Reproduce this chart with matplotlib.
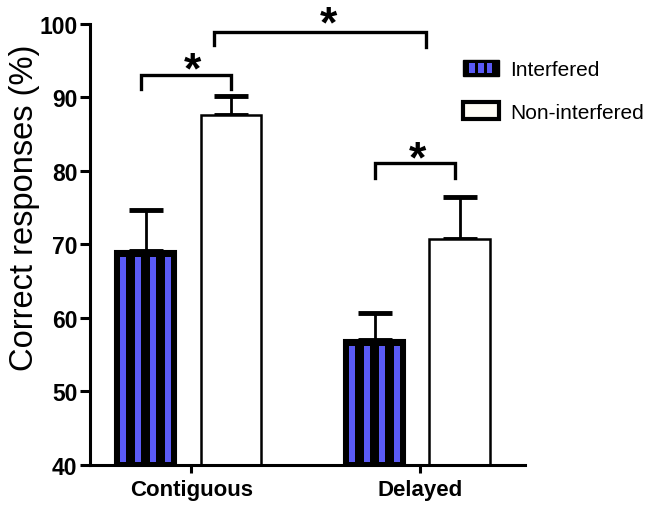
import numpy as np
import matplotlib
matplotlib.use('Agg')
import matplotlib.pyplot as plt
from matplotlib.patches import Rectangle
from matplotlib.legend_handler import HandlerBase

plt.rcParams['font.family'] = ['Liberation Sans', 'DejaVu Sans']

groups = ['Contiguous', 'Delayed']
series = ['Interfered', 'Non-interfered']
interfered = [69.1, 57.0]
interfered_err = [5.6, 3.7]
non_interfered = [87.6, 70.8]
non_interfered_err = [2.6, 5.7]
yticks = [40, 50, 60, 70, 80, 90, 100]

blue = '#5a5af5'
cream = '#fffdf6'


class StripeHandler(HandlerBase):
    def create_artists(self, legend, orig_handle, xdescent, ydescent,
                       width, height, fontsize, trans):
        x0, y0 = -xdescent, -ydescent
        arts = [Rectangle((x0, y0), width, height, facecolor='black',
                          edgecolor='black', transform=trans)]
        sw = width * 0.15
        for k in range(3):
            cx = x0 + width * (0.25 + 0.25 * k)
            arts.append(Rectangle((cx - sw / 2, y0 + height * 0.18), sw, height * 0.64,
                                  facecolor=blue, edgecolor='none', transform=trans))
        return arts


class BoxHandler(HandlerBase):
    def create_artists(self, legend, orig_handle, xdescent, ydescent,
                       width, height, fontsize, trans):
        return [Rectangle((-xdescent, -ydescent), width, height, facecolor=cream,
                          edgecolor='black', linewidth=3, transform=trans)]


fig = plt.figure(figsize=(6.47, 5.10), dpi=100)
ax = fig.add_axes([0.139, 0.0863, 0.672, 0.865])

x = np.arange(len(groups))
off = 0.186
w = 0.265

# interfered bars: black with blue stripes
b1 = ax.bar(x - off, interfered, w, color='black', edgecolor='black', linewidth=1.5, zorder=2)
for s in [-0.098, -0.033, 0.033, 0.098]:
    tops = np.array(interfered) - 0.8
    ax.bar(x - off + s, tops - 40.4, 0.026, bottom=40.4, color=blue, linewidth=0, zorder=3)
ax.errorbar(x - off, interfered, yerr=[np.zeros(2), interfered_err], fmt='none',
            ecolor='black', elinewidth=2, capsize=12.5, capthick=3.5, zorder=1)

b2 = ax.bar(x + off, non_interfered, w, color='white', edgecolor='black', linewidth=1.8, zorder=2)
ax.errorbar(x + off, non_interfered, yerr=[np.zeros(2), non_interfered_err], fmt='none',
            ecolor='black', elinewidth=2, capsize=12.5, capthick=3.5, zorder=1)

# significance brackets
def bracket(x1, x2, y, y_left, y_right, sx, sy):
    ax.plot([x1, x1, x2, x2], [y_left, y, y, y_right], color='black', lw=2.4,
            clip_on=False, solid_joinstyle='miter')
    ax.text(sx, sy, '*', ha='center', va='center', fontsize=32, fontweight='bold',
            clip_on=False)

bracket(-off - 0.02, off, 93.1, 91.2, 91.2, 0.017, 93.6)
bracket(0.11, 1.04, 98.9, 97.1, 96.9, 0.612, 99.9)
bracket(1 - off, 1 + off - 0.02, 81.1, 79.1, 79.0, 1.0, 81.5)

ax.set_xlim(-0.43, 1.47)
ax.set_ylim(40, 100)
ax.set_yticks(yticks)
ax.set_xticks(x + 0.013)
ax.set_xticklabels(groups)
ax.set_ylabel('Correct responses (%)', fontsize=23.5)
ax.yaxis.set_label_coords(-0.115, 0.585)

for sp in ['top', 'right']:
    ax.spines[sp].set_visible(False)
for sp in ['left', 'bottom']:
    ax.spines[sp].set_linewidth(2.2)
ax.tick_params(axis='y', width=2.2, length=7, labelsize=16.5, pad=2)
ax.tick_params(axis='x', width=2.2, length=6, labelsize=16, pad=4)
for lab in ax.get_xticklabels() + ax.get_yticklabels():
    lab.set_fontweight('bold')

fig.legend([b1, b2], series, handler_map={b1: StripeHandler(), b2: BoxHandler()},
           loc='upper left', bbox_to_anchor=(0.716, 0.881), frameon=False,
           fontsize=15, handlelength=1.7, handleheight=0.85,
           handletextpad=0.55, labelspacing=1.1, borderpad=0, borderaxespad=0)

fig.savefig('out.png', dpi=100)
